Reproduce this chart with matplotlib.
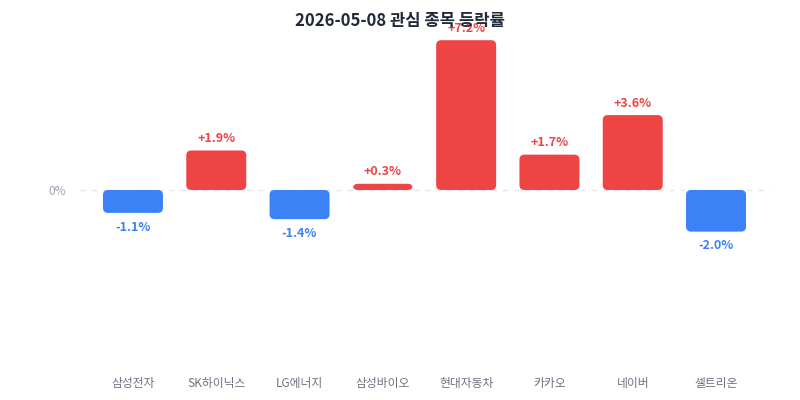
import matplotlib
matplotlib.use("Agg")
import matplotlib.pyplot as plt
from matplotlib.patches import FancyBboxPatch

plt.rcParams['font.family'] = ['Noto Sans CJK KR', 'DejaVu Sans']

names = ['삼성전자', 'SK하이닉스', 'LG에너지', '삼성바이오', '현대자동차', '카카오', '네이버', '셀트리온']
changes = [-1.1, 1.9, -1.4, 0.3, 7.2, 1.7, 3.6, -2.0]

RED = '#ef4444'
BLUE = '#3b82f6'

fig = plt.figure(figsize=(8, 4), dpi=100)
# axes placed in pixel terms: left 80, right 770, top 30, bottom 360
ax = fig.add_axes([80 / 800, 40 / 400, 690 / 800, 330 / 400])

ax.set_xlim(-0.636, 7.648)
ax.set_ylim(-8.17, 7.69)

bw = 0.72
for i, v in enumerate(changes):
    c = RED if v >= 0 else BLUE
    y0 = min(0, v)
    h = abs(v)
    rs = min(0.06, h / 2)
    box = FancyBboxPatch((i - bw / 2, y0), bw, h,
                         boxstyle="round,pad=0,rounding_size=%f" % rs,
                         mutation_aspect=4.0, fc=c, ec='none', zorder=3)
    ax.add_patch(box)
    txt = ('+%.1f%%' % v) if v >= 0 else ('%.1f%%' % v)
    ax.annotate(txt, (i, v), xytext=(0, 4 if v >= 0 else -5.5),
                textcoords='offset points', ha='center',
                va='bottom' if v >= 0 else 'top',
                color=c, fontsize=9, fontweight='bold', zorder=1)

ax.axhline(0, color='#e5e7eb', lw=1, ls=(0, (4, 4)), zorder=1)

for s in ax.spines.values():
    s.set_visible(False)
ax.set_xticks(range(len(names)))
ax.set_xticklabels(names, fontsize=8.5, color='#6b7280')
ax.set_yticks([0])
ax.set_yticklabels(['0%'], fontsize=8.5, color='#9ca3af')
ax.tick_params(axis='both', length=0)
ax.tick_params(axis='x', pad=12)
ax.tick_params(axis='y', pad=10)

fig.text(0.5, 1 - 21 / 400, '2026-05-08 관심 종목 등락률', ha='center', va='center',
         fontsize=12, fontweight='bold', color='#1f2937', zorder=10)

fig.savefig('out.png', dpi=100)
